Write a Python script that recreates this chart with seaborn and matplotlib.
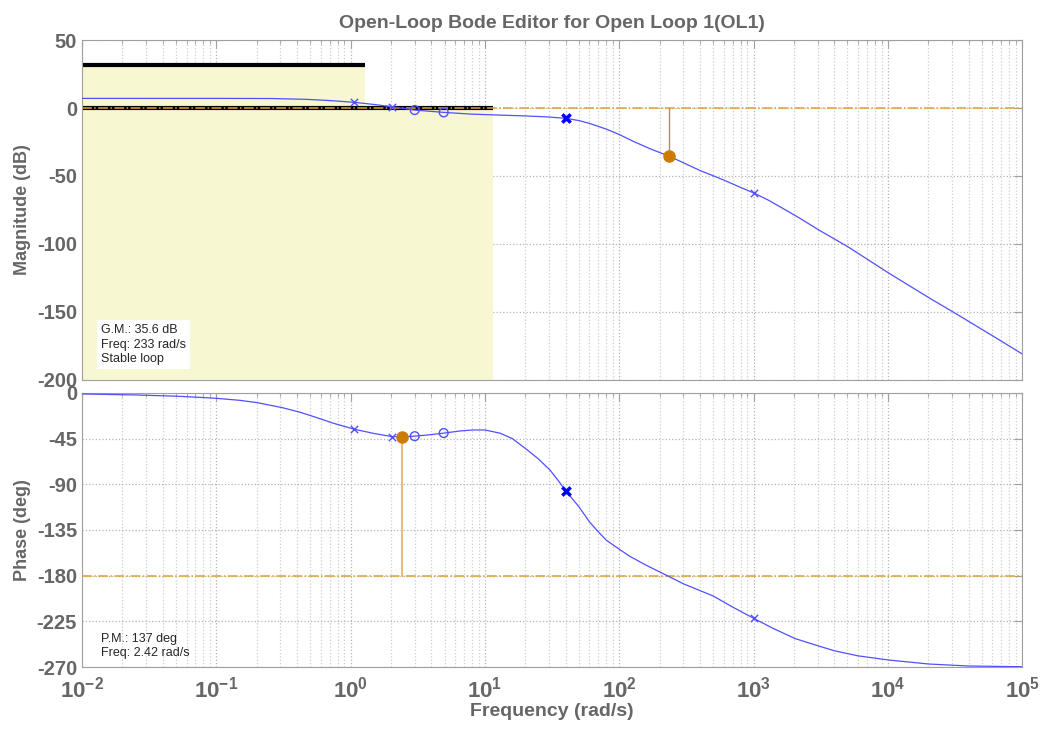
import numpy as np
import pandas as pd
import seaborn as sns
import matplotlib.pyplot as plt
from matplotlib.ticker import FixedLocator, FuncFormatter, LogLocator, NullFormatter

# values
mag_freq = [0.01, 0.03, 0.1, 0.26, 0.47, 0.7, 1.065, 1.5, 2.02, 3.0, 4.93, 8, 13, 20, 30, 40, 50,
            60, 80, 100, 127, 170, 236, 400, 600, 795, 1014, 1300, 1660, 2200, 3030, 5020, 10200,
            20500, 30700, 61000, 100000]
mag_db = [7.1, 7.1, 7.1, 7.0, 6.4, 5.5, 4.2, 2.6, 1.0, -1.5, -3.2, -4.5, -5.2, -5.8, -6.6, -7.6, -9.2,
          -11.3, -15.5, -19.5, -24.5, -30, -35.5, -46, -53, -58.3, -62.7, -68, -74, -81, -89.5, -102,
          -121.6, -140, -150.2, -168, -181]

ph_freq = [0.01, 0.025, 0.05, 0.074, 0.1, 0.15, 0.2, 0.31, 0.42, 0.55, 0.75, 1.07, 1.5, 2.03, 2.42,
           3.0, 4.0, 5.0, 6.5, 8.1, 10, 13, 16, 20.6, 25, 30.5, 35, 40, 50, 60, 70, 80, 100, 120,
           160, 210, 300, 500, 700, 1000, 1400, 2040, 3000, 4000, 6000, 10000, 20000, 40000, 100000]
ph_deg = [-1, -2, -3.2, -4.3, -5.3, -7.3, -9.5, -14.5, -19, -24, -30, -35.8, -40, -43, -43.3,
          -42.6, -41, -39.5, -37.5, -36.5, -36.5, -39.7, -45, -56, -65, -76, -86, -96.6, -112, -127,
          -137, -145, -154, -161, -170, -177.7, -188, -200, -211, -222, -232, -242, -249, -254,
          -259, -263, -267, -269, -269.7]

# compensator poles/zeros as shown on the curves
pole_freq = [1.065, 2.02, 1000]
pole_mag = [4.2, 1.0, -62.7]
pole_ph = [-35.8, -43, -222]
zero_freq = [3.0, 4.93]
zero_mag = [-1.5, -3.2]
zero_ph = [-42.6, -39.5]
plant_pole_freq = [40]
plant_pole_mag = [-7.6]
plant_pole_ph = [-96.6]

# gain / phase margins
gm_freq, gm_db = 233, -35.6
pm_freq, pm_deg = 2.42, -43.3

# design constraint regions (upper edge, extent in frequency)
bound_freq = [1.28, 11.5]
bound_db = [32, 0]

sns.set_style("white")
plt.rcParams['font.family'] = ['Liberation Sans', 'DejaVu Sans']
plt.rcParams['axes.unicode_minus'] = False
plt.rcParams['mathtext.fontset'] = 'custom'
plt.rcParams['mathtext.bf'] = 'Liberation Sans:bold'
plt.rcParams['mathtext.rm'] = 'Liberation Sans:bold'

grey = '#666666'
spine = '#a0a0a0'
line_c = '#5050ff'
orange = '#cc7a00'
orange_l = '#eebb70'

fig = plt.figure(figsize=(10.43, 7.29), dpi=100)
ax_mag = fig.add_axes([0.0786, 0.479, 0.9015, 0.466])
ax_ph = fig.add_axes([0.0786, 0.085, 0.9015, 0.376], sharex=ax_mag)

for ax in (ax_mag, ax_ph):
    ax.set_xscale('log')
    ax.set_axisbelow(True)
    ax.grid(which='major', ls=':', color='#b4b4b4', lw=0.9)
    ax.grid(which='minor', axis='x', ls=':', color='#cfcfcf', lw=0.9)
    for s in ax.spines.values():
        s.set_color(spine)
    ax.tick_params(which='both', direction='in', top=True, right=True, color=spine,
                   labelcolor=grey, labelsize=14.5)
    ax.tick_params(which='major', length=6)
    ax.tick_params(which='minor', length=3)

# ---- magnitude
for f, db in zip(bound_freq, bound_db):
    ax_mag.fill_between([0.01, f], -200, db, color='#f7f7d2', lw=0, zorder=1)
for f, db in zip(bound_freq, bound_db):
    ax_mag.plot([0.01, f], [db, db], color='black', lw=3, zorder=2, solid_capstyle='butt')
ax_mag.axhline(0, color='#e0a030', ls='-.', lw=1.1, zorder=3)
ax_mag.plot([gm_freq, gm_freq], [0, gm_db], color='#a89070', lw=1, zorder=3)

sns.lineplot(x=mag_freq, y=mag_db, ax=ax_mag, color=line_c, lw=0.9, estimator=None, sort=False, zorder=4)
sns.scatterplot(x=pole_freq, y=pole_mag, ax=ax_mag, marker='x', s=28, color=line_c, linewidth=1, zorder=5)
sns.scatterplot(x=zero_freq, y=zero_mag, ax=ax_mag, marker='o', s=40, facecolor='none',
                edgecolor=line_c, linewidth=1, zorder=5)
sns.scatterplot(x=plant_pole_freq, y=plant_pole_mag, ax=ax_mag, marker='x', s=36, color='#0000ff',
                linewidth=2.5, zorder=5)
ax_mag.plot(gm_freq, gm_db, 'o', color=orange, ms=8, zorder=6)

ax_mag.set_xlim(1e-2, 1e5)
ax_mag.set_ylim(-200, 50)
ax_mag.yaxis.set_major_locator(FixedLocator(range(-200, 51, 50)))
ax_mag.set_ylabel('Magnitude (dB)', fontsize=13, fontweight='bold', color=grey, labelpad=4)
ax_mag.set_title('Open-Loop Bode Editor for Open Loop 1(OL1)', fontsize=14, fontweight='bold',
                 color=grey, pad=9)
ax_mag.tick_params(axis='x', labelbottom=False)
ax_mag.text(0.02, 0.163, 'G.M.: 35.6 dB\nFreq: 233 rad/s\nStable loop', transform=ax_mag.transAxes,
            fontsize=9, va='top', ha='left', linespacing=1.25, zorder=7,
            bbox=dict(facecolor='white', edgecolor='none', pad=3))

# ---- phase
ax_ph.axhline(-180, color='#e0a030', ls='-.', lw=1.1, zorder=3)
ax_ph.plot([pm_freq, pm_freq], [pm_deg, -180], color=orange_l, lw=1.5, zorder=3)
sns.lineplot(x=ph_freq, y=ph_deg, ax=ax_ph, color=line_c, lw=0.9, estimator=None, sort=False, zorder=4)
sns.scatterplot(x=pole_freq, y=pole_ph, ax=ax_ph, marker='x', s=28, color=line_c, linewidth=1, zorder=5)
sns.scatterplot(x=zero_freq, y=zero_ph, ax=ax_ph, marker='o', s=40, facecolor='none',
                edgecolor=line_c, linewidth=1, zorder=5)
sns.scatterplot(x=plant_pole_freq, y=plant_pole_ph, ax=ax_ph, marker='x', s=36, color='#0000ff',
                linewidth=2.5, zorder=5)
ax_ph.plot(pm_freq, pm_deg, 'o', color=orange, ms=8, zorder=6)

ax_ph.set_ylim(-270, 0)
ax_ph.yaxis.set_major_locator(FixedLocator(range(-270, 1, 45)))
ax_ph.xaxis.set_major_locator(LogLocator(base=10, numticks=10))
ax_ph.xaxis.set_minor_locator(LogLocator(base=10, subs=np.arange(2, 10), numticks=100))
ax_ph.xaxis.set_major_formatter(FuncFormatter(lambda v, p: r'$\mathbf{10^{%d}}$' % round(np.log10(v))))
ax_ph.xaxis.set_minor_formatter(NullFormatter())
ax_ph.tick_params(axis='x', labelsize=16, pad=7)
ax_ph.set_ylabel('Phase (deg)', fontsize=13, fontweight='bold', color=grey, labelpad=4)
ax_ph.set_xlabel('Frequency (rad/s)', fontsize=14, fontweight='bold', color=grey, labelpad=0)
ax_ph.text(0.02, 0.124, 'P.M.: 137 deg\nFreq: 2.42 rad/s', transform=ax_ph.transAxes,
           fontsize=9, va='top', ha='left', linespacing=1.25, zorder=7)

for ax in (ax_mag, ax_ph):
    for lab in ax.get_yticklabels():
        lab.set_fontweight('bold')

fig.savefig('out.png', dpi=100)
